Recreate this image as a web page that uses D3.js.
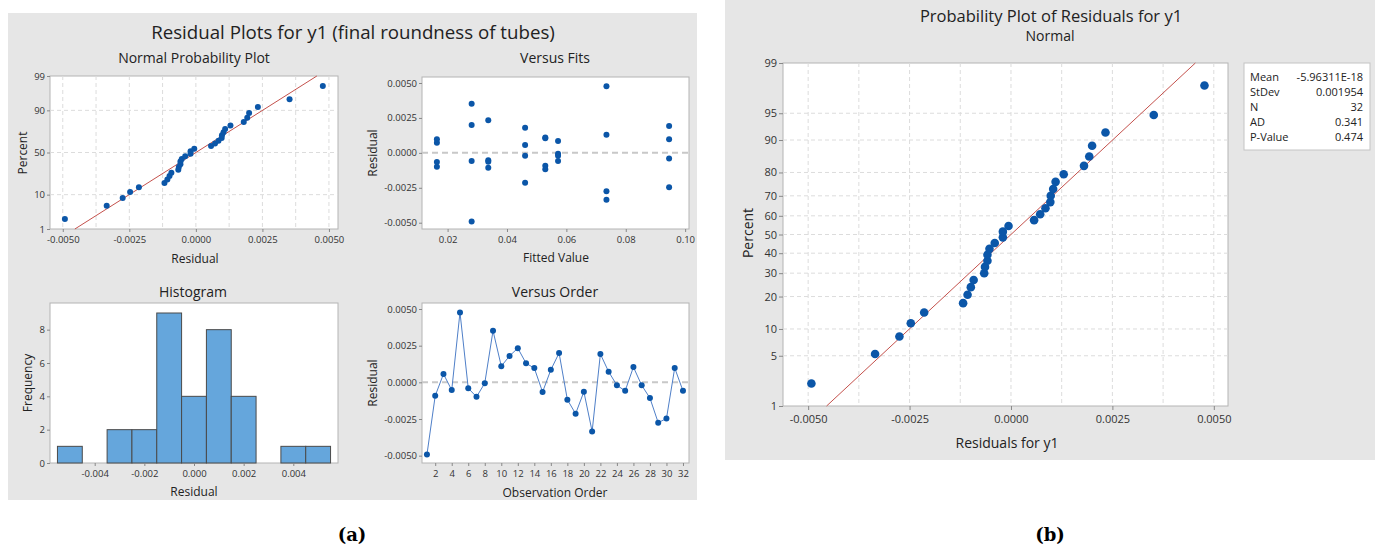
<!DOCTYPE html>
<html>
<head>
<meta charset="utf-8">
<script src="https://cdn.jsdelivr.net/npm/d3@7"></script>
<style>
	body{margin:0;background:#fff;}
	svg{display:block;font-family:"Open Sans",sans-serif;}
</style>
</head>
<body>
<svg id="chart" width="1381" height="547"></svg>
<script>

//RESIDUALS, IN OBSERVATION ORDER
var order = [1, 2, 3, 4, 5, 6, 7, 8, 9, 10, 11, 12, 13, 14, 15, 16,
	17, 18, 19, 20, 21, 22, 23, 24, 25, 26, 27, 28, 29, 30, 31, 32];
var residuals = [
	-0.00492, -0.00092, 0.00057, -0.00053, 0.00477, -0.00040, -0.00099, -0.00006,
	0.00352, 0.00110, 0.00180, 0.00233, 0.00130, 0.00097, -0.00066, 0.00085,
	0.00200, -0.00118, -0.00214, -0.00064, -0.00335, 0.00193, 0.00072, -0.00020,
	-0.00058, 0.00104, -0.00020, -0.00107, -0.00275, -0.00247, 0.00098, -0.00058
];
var fitted = [
	0.0281, 0.0529, 0.0461, 0.0337, 0.0735, 0.0946, 0.0164, 0.0572,
	0.0281, 0.0529, 0.0461, 0.0337, 0.0735, 0.0946, 0.0164, 0.0572,
	0.0281, 0.0529, 0.0461, 0.0337, 0.0735, 0.0946, 0.0164, 0.0572,
	0.0281, 0.0529, 0.0461, 0.0337, 0.0735, 0.0946, 0.0164, 0.0572
];

//HISTOGRAM BIN EDGES
var binEdges = [-0.0055, -0.0045, -0.0035, -0.0025, -0.0015, -0.0005,
	0.0005, 0.0015, 0.0025, 0.0035, 0.0045, 0.0055];

//SUMMARY TABLE
var statNames = ["Mean", "StDev", "N", "AD", "P-Value"];
var statValues = ["-5.96311E-18", "0.001954", "32", "0.341", "0.474"];
var MEAN = -5.96311e-18;
var STDEV = 0.001954;

//TICKS
var residTicks = [-0.005, -0.0025, 0, 0.0025, 0.005];
var residGrid = [-0.005, -0.00375, -0.0025, -0.00125, 0, 0.00125, 0.0025, 0.00375, 0.005];
var pctTicksA = [1, 10, 50, 90, 99];
var pctGridA = [10, 50, 90];
var pctTicksB = [1, 5, 10, 20, 30, 40, 50, 60, 70, 80, 90, 95, 99];
var fitTicks = [0.02, 0.04, 0.06, 0.08, 0.10];
var histXTicks = [-0.004, -0.002, 0, 0.002, 0.004];
var histYTicks = [0, 2, 4, 6, 8];
var orderTicks = [2, 4, 6, 8, 10, 12, 14, 16, 18, 20, 22, 24, 26, 28, 30, 32];


var BLUE = "#0b56a8";
var RED = "#c4514c";
var FRAME = "#b4b4b4";
var GRID = "#dcdcdc";
var TEXT = "#222";

//INVERSE NORMAL CDF (ACKLAM)
function probit(p){
	var a = [-3.969683028665376e+01, 2.209460984245205e+02, -2.759285104469687e+02, 1.383577518672690e+02, -3.066479806614716e+01, 2.506628277459239e+00];
	var b = [-5.447609879822406e+01, 1.615858368580409e+02, -1.556989798598866e+02, 6.680131188771972e+01, -1.328068155288572e+01];
	var c = [-7.784894002430293e-03, -3.223964580411365e-01, -2.400758277161838e+00, -2.549732539343734e+00, 4.374664141464968e+00, 2.938163982698783e+00];
	var d = [7.784695709041462e-03, 3.224671290700398e-01, 2.445134137142996e+00, 3.754408661907416e+00];
	var plow = 0.02425, q, r;
	if (p < plow) {
		q = Math.sqrt(-2 * Math.log(p));
		return (((((c[0]*q+c[1])*q+c[2])*q+c[3])*q+c[4])*q+c[5]) / ((((d[0]*q+d[1])*q+d[2])*q+d[3])*q+1);
	}
	if (p <= 1 - plow) {
		q = p - 0.5; r = q * q;
		return (((((a[0]*r+a[1])*r+a[2])*r+a[3])*r+a[4])*r+a[5])*q / (((((b[0]*r+b[1])*r+b[2])*r+b[3])*r+b[4])*r+1);
	}
	q = Math.sqrt(-2 * Math.log(1 - p));
	return -(((((c[0]*q+c[1])*q+c[2])*q+c[3])*q+c[4])*q+c[5]) / ((((d[0]*q+d[1])*q+d[2])*q+d[3])*q+1);
}

function fmt4(v){ return v.toFixed(4); }
function fmt3(v){ return v.toFixed(3); }
function fmt2(v){ return v.toFixed(2); }

var svg = d3.select("#chart");

function styleAxis(g, size){
	g.attr("font-family", null).attr("font-size", size);
	g.select(".domain").remove();
	g.selectAll(".tick line").attr("stroke", "#888");
	g.selectAll(".tick text").attr("fill", "#333");
	return g;
}

function plotArea(b){
	svg.append("rect")
		.attr("x", b.x0).attr("y", b.y0)
		.attr("width", b.x1 - b.x0).attr("height", b.y1 - b.y0)
		.attr("fill", "#fff").attr("stroke", FRAME);
}

function label(x, y, txt, size, rotate, weight){
	var t = svg.append("text")
		.attr("text-anchor", "middle")
		.attr("font-size", size)
		.attr("fill", TEXT)
		.text(txt);
	if (weight) t.attr("font-weight", weight);
	if (rotate) t.attr("transform", "translate(" + x + "," + y + ") rotate(-90)");
	else t.attr("x", x).attr("y", y);
	return t;
}

function vgrid(vals, x, b){
	svg.append("g").selectAll("line").data(vals).enter().append("line")
		.attr("x1", x).attr("x2", x)
		.attr("y1", b.y0).attr("y2", b.y1)
		.attr("stroke", GRID).attr("stroke-dasharray", "4,3");
}

function hgrid(vals, y, b){
	svg.append("g").selectAll("line").data(vals).enter().append("line")
		.attr("y1", y).attr("y2", y)
		.attr("x1", b.x0).attr("x2", b.x1)
		.attr("stroke", GRID).attr("stroke-dasharray", "4,3");
}

function zeroLine(y, b){
	svg.append("line")
		.attr("x1", b.x0).attr("x2", b.x1)
		.attr("y1", y(0)).attr("y2", y(0))
		.attr("stroke", "#c8c8c8").attr("stroke-width", 2).attr("stroke-dasharray", "6,4");
}

//BACKGROUNDS
svg.append("rect").attr("x", 8).attr("y", 13).attr("width", 689).attr("height", 487).attr("fill", "#e6e6e6");
svg.append("rect").attr("x", 725).attr("y", 0).attr("width", 650).attr("height", 460).attr("fill", "#e6e6e6");

label(353, 39, "Residual Plots for y1 (final roundness of tubes)", 18.7);

//PROBABILITY POINTS
var sorted = residuals.slice().sort(d3.ascending);
var n = sorted.length;
var probPts = sorted.map(function(r, i){ return {r: r, z: probit((i + 1 - 0.3) / (n + 0.4))}; });
var zLo = probit(0.01), zHi = probit(0.99);

function pctAxis(ticks){
	return function(axis){
		return axis.tickValues(ticks.map(function(t){ return probit(t / 100); }))
			.tickFormat(function(d, i){ return ticks[i]; });
	};
}

//NORMAL PROBABILITY PLOT
var boxNP = {x0: 50, x1: 338, y0: 76, y1: 229};
var xNP = d3.scaleLinear().domain([-0.00548, 0.00534]).range([boxNP.x0, boxNP.x1]);
var yNP = d3.scaleLinear().domain([zLo, zHi]).range([boxNP.y1, boxNP.y0]);
plotArea(boxNP);
vgrid(residGrid, xNP, boxNP);
hgrid(pctGridA.map(function(t){ return probit(t / 100); }), yNP, boxNP);
svg.append("line")
	.attr("x1", xNP(MEAN + STDEV * zLo)).attr("y1", yNP(zLo))
	.attr("x2", xNP(MEAN + STDEV * zHi)).attr("y2", yNP(zHi))
	.attr("stroke", RED).attr("stroke-width", 1);
svg.append("g").selectAll("circle").data(probPts).enter().append("circle")
	.attr("cx", function(d){ return xNP(d.r); })
	.attr("cy", function(d){ return yNP(d.z); })
	.attr("r", 3).attr("fill", BLUE);
styleAxis(svg.append("g").attr("transform", "translate(" + boxNP.x0 + ",0)")
	.call(pctAxis(pctTicksA)(d3.axisLeft(yNP)).tickSize(3).tickPadding(2)), 9.5);
styleAxis(svg.append("g").attr("transform", "translate(0," + boxNP.y1 + ")")
	.call(d3.axisBottom(xNP).tickValues(residTicks).tickFormat(fmt4).tickSize(3).tickPadding(4)), 9.5);
label(194, 63, "Normal Probability Plot", 14);
label(195, 263, "Residual", 12);
label(27, 153, "Percent", 12, true);

//VERSUS FITS
var boxVF = {x0: 422, x1: 689, y0: 77, y1: 229};
var xVF = d3.scaleLinear().domain([0.01138, 0.1013]).range([boxVF.x0, boxVF.x1]);
var yVF = d3.scaleLinear().domain([-0.00545, 0.00543]).range([boxVF.y1, boxVF.y0]);
plotArea(boxVF);
zeroLine(yVF, boxVF);
svg.append("g").selectAll("circle").data(residuals).enter().append("circle")
	.attr("cx", function(d, i){ return xVF(fitted[i]); })
	.attr("cy", function(d){ return yVF(d); })
	.attr("r", 3).attr("fill", BLUE);
styleAxis(svg.append("g").attr("transform", "translate(" + boxVF.x0 + ",0)")
	.call(d3.axisLeft(yVF).tickValues(residTicks).tickFormat(fmt4).tickSize(3).tickPadding(2)), 9.5);
styleAxis(svg.append("g").attr("transform", "translate(0," + boxVF.y1 + ")")
	.call(d3.axisBottom(xVF).tickValues(fitTicks).tickFormat(fmt2).tickSize(3).tickPadding(4)), 9.5);
label(555, 63, "Versus Fits", 14);
label(556, 262, "Fitted Value", 12);
label(377, 153, "Residual", 12, true);

//HISTOGRAM
var boxH = {x0: 50, x1: 338, y0: 303, y1: 463};
var xH = d3.scaleLinear().domain([-0.0058, 0.0058]).range([boxH.x0, boxH.x1]);
var yH = d3.scaleLinear().domain([0, 9.6]).range([boxH.y1, boxH.y0]);
var bins = d3.bin().domain([binEdges[0], binEdges[binEdges.length - 1]])
	.thresholds(binEdges.slice(1, -1))(residuals);
plotArea(boxH);
svg.append("g").selectAll("rect").data(bins.filter(function(b){ return b.length > 0; })).enter().append("rect")
	.attr("x", function(b){ return xH(b.x0); })
	.attr("width", function(b){ return xH(b.x1) - xH(b.x0); })
	.attr("y", function(b){ return yH(b.length); })
	.attr("height", function(b){ return yH(0) - yH(b.length); })
	.attr("fill", "#65a6dc").attr("stroke", "#4a4a4a").attr("stroke-width", 1);
styleAxis(svg.append("g").attr("transform", "translate(" + boxH.x0 + ",0)")
	.call(d3.axisLeft(yH).tickValues(histYTicks).tickSize(3).tickPadding(2)), 9.5);
styleAxis(svg.append("g").attr("transform", "translate(0," + boxH.y1 + ")")
	.call(d3.axisBottom(xH).tickValues(histXTicks).tickFormat(fmt3).tickSize(3).tickPadding(4)), 9.5);
label(193, 297, "Histogram", 14);
label(194, 496, "Residual", 12);
label(32, 383, "Frequency", 12, true);

//VERSUS ORDER
var boxVO = {x0: 422, x1: 689, y0: 303, y1: 463};
var xVO = d3.scaleLinear().domain([0.4, 32.73]).range([boxVO.x0, boxVO.x1]);
var yVO = d3.scaleLinear().domain([-0.0055, 0.00541]).range([boxVO.y1, boxVO.y0]);
plotArea(boxVO);
zeroLine(yVO, boxVO);
svg.append("path")
	.datum(residuals)
	.attr("d", d3.line()
		.x(function(d, i){ return xVO(order[i]); })
		.y(function(d){ return yVO(d); }))
	.attr("fill", "none").attr("stroke", "#4f7fc8").attr("stroke-width", 1);
svg.append("g").selectAll("circle").data(residuals).enter().append("circle")
	.attr("cx", function(d, i){ return xVO(order[i]); })
	.attr("cy", function(d){ return yVO(d); })
	.attr("r", 3).attr("fill", BLUE);
styleAxis(svg.append("g").attr("transform", "translate(" + boxVO.x0 + ",0)")
	.call(d3.axisLeft(yVO).tickValues(residTicks).tickFormat(fmt4).tickSize(3).tickPadding(2)), 9.5);
styleAxis(svg.append("g").attr("transform", "translate(0," + boxVO.y1 + ")")
	.call(d3.axisBottom(xVO).tickValues(orderTicks).tickSize(3).tickPadding(4)), 9.5);
label(555, 297, "Versus Order", 14);
label(555, 497, "Observation Order", 12);
label(377, 383, "Residual", 12, true);

//PROBABILITY PLOT (b)
var boxB = {x0: 783, x1: 1228, y0: 63, y1: 406};
var xB = d3.scaleLinear().domain([-0.00562, 0.00535]).range([boxB.x0, boxB.x1]);
var yB = d3.scaleLinear().domain([zLo, zHi]).range([boxB.y1, boxB.y0]);
plotArea(boxB);
vgrid(residGrid, xB, boxB);
hgrid(pctTicksB.slice(1, -1).map(function(t){ return probit(t / 100); }), yB, boxB);
svg.append("line")
	.attr("x1", xB(MEAN + STDEV * zLo)).attr("y1", yB(zLo))
	.attr("x2", xB(MEAN + STDEV * zHi)).attr("y2", yB(zHi))
	.attr("stroke", RED).attr("stroke-width", 1);
svg.append("g").selectAll("circle").data(probPts).enter().append("circle")
	.attr("cx", function(d){ return xB(d.r); })
	.attr("cy", function(d){ return yB(d.z); })
	.attr("r", 4.3).attr("fill", BLUE);
styleAxis(svg.append("g").attr("transform", "translate(" + boxB.x0 + ",0)")
	.call(pctAxis(pctTicksB)(d3.axisLeft(yB)).tickSize(4).tickPadding(2)), 11);
styleAxis(svg.append("g").attr("transform", "translate(0," + boxB.y1 + ")")
	.call(d3.axisBottom(xB).tickValues(residTicks).tickFormat(fmt4).tickSize(4).tickPadding(5)), 11);
label(1051, 22, "Probability Plot of Residuals for y1", 16.5);
label(1050, 41, "Normal", 14);
label(1007, 448, "Residuals for y1", 14);
label(753, 233, "Percent", 14, true);

//SUMMARY BOX
svg.append("rect").attr("x", 1244).attr("y", 63).attr("width", 126).attr("height", 87)
	.attr("fill", "#fff").attr("stroke", "#c4c4c4");
var rows = svg.append("g").selectAll("g").data(statNames).enter().append("g")
	.attr("transform", function(d, i){ return "translate(0," + (81 + i * 15) + ")"; })
	.attr("font-size", 11).attr("fill", TEXT);
rows.append("text").attr("x", 1250).text(function(d){ return d; });
rows.append("text").attr("x", 1363).attr("text-anchor", "end").text(function(d, i){ return statValues[i]; });

//CAPTIONS
svg.append("text").attr("x", 352).attr("y", 541).attr("text-anchor", "middle")
	.attr("font-family", "DejaVu Serif").attr("font-weight", "bold").attr("font-size", 18).text("(a)");
svg.append("text").attr("x", 1050).attr("y", 541).attr("text-anchor", "middle")
	.attr("font-family", "DejaVu Serif").attr("font-weight", "bold").attr("font-size", 18).text("(b)");

</script>
</body>
</html>
